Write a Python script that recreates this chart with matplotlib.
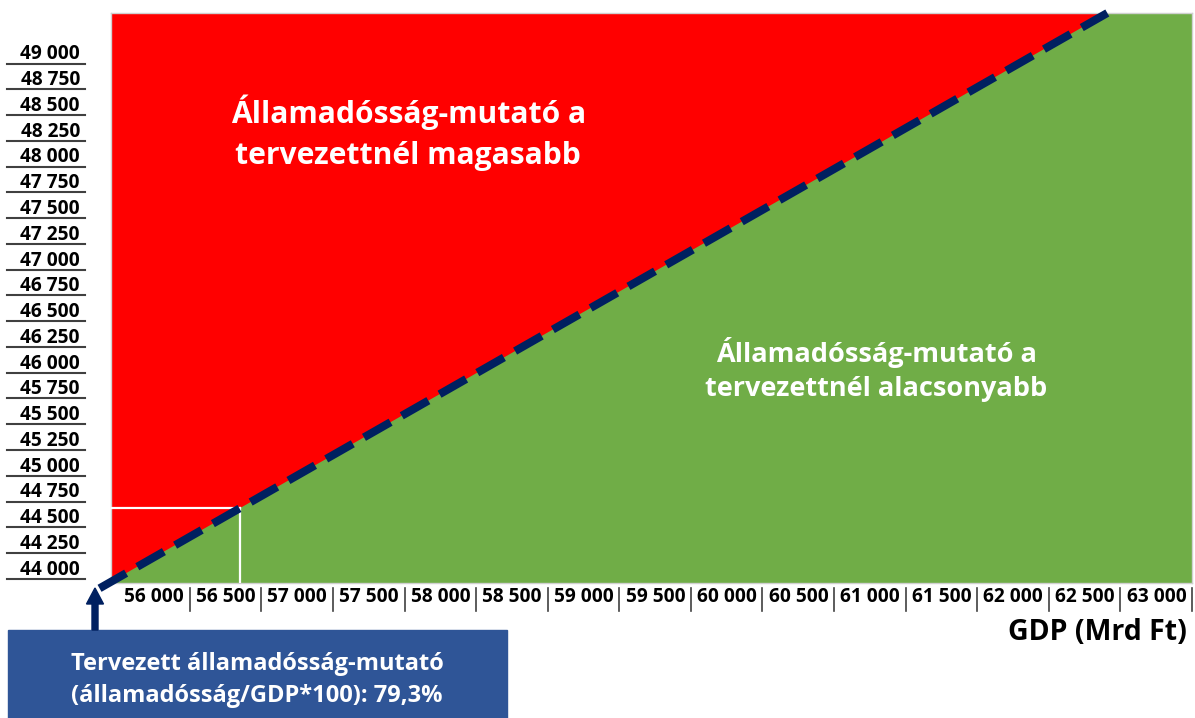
import matplotlib.pyplot as plt
import matplotlib.transforms as mtransforms
import numpy as np
from matplotlib.patches import FancyArrow, Rectangle

plt.rcParams['font.family'] = ['Open Sans', 'DejaVu Sans']

# adatok
gdp_ticks = [56000, 56500, 57000, 57500, 58000, 58500, 59000, 59500,
             60000, 60500, 61000, 61500, 62000, 62500, 63000]
debt_ticks = [44000, 44250, 44500, 44750, 45000, 45250, 45500, 45750,
              46000, 46250, 46500, 46750, 47000, 47250, 47500, 47750,
              48000, 48250, 48500, 48750, 49000]
ratio = 0.793          # tervezett adósság/GDP
marker_gdp = 56350     # kiemelt pont
line_start_gdp = 55370
xlim = (55450, 63000)
ylim = (43960, 49490)


def fmt(v):
    return f"{v:,}".replace(",", " ")


fig = plt.figure(figsize=(11.95, 7.18), dpi=100)
ax = fig.add_axes([111 / 1195, 135 / 718, 1081 / 1195, 570 / 718])
ax.set_xlim(*xlim)
ax.set_ylim(*ylim)

# háttér: piros, a vonal alatt zöld
ax.add_patch(Rectangle((xlim[0], ylim[0]), xlim[1] - xlim[0], ylim[1] - ylim[0],
                       color='#FF0000', zorder=0))
gx = np.linspace(xlim[0], xlim[1], 200)
ax.fill_between(gx, ylim[0], np.minimum(gx * ratio, ylim[1]),
                color='#70AD47', zorder=1)

# szaggatott határvonal
x_end = ylim[1] / ratio
lx = np.array([line_start_gdp, x_end])
ax.plot(lx, lx * ratio, color='#002060', lw=5.8, ls=(0, (3.8, 1.6)),
        solid_capstyle='butt', dash_capstyle='butt', clip_on=False, zorder=4)

# fehér jelölővonalak
my = marker_gdp * ratio
ax.plot([xlim[0], marker_gdp], [my, my], color='white', lw=1.6, zorder=3)
ax.plot([marker_gdp, marker_gdp], [ylim[0], my], color='white', lw=1.6, zorder=3)

for s in ax.spines.values():
    s.set_color('#D0D0D0')
    s.set_linewidth(1)
ax.set_xticks([])
ax.set_yticks([])

# y tengely feliratok aláhúzással
ty = mtransforms.blended_transform_factory(fig.transFigure, ax.transData)
for v in debt_ticks:
    ax.text(80 / 1195, v + 40, fmt(v), transform=ty, ha='right', va='baseline',
            fontsize=13.8, fontweight='bold', color='black')
    ax.plot([7 / 1195, 85 / 1195], [v, v], transform=ty, color='#404040',
            lw=1.5, clip_on=False)

# x tengely feliratok elválasztókkal
tx = mtransforms.blended_transform_factory(ax.transData, fig.transFigure)
for v in gdp_ticks:
    ax.text(v - 40, 1 - 597 / 718, fmt(v), transform=tx, ha='right', va='center',
            fontsize=13.8, fontweight='bold', color='black')
    ax.plot([v, v], [1 - 588 / 718, 1 - 611 / 718], transform=tx,
            color='#404040', lw=1.2, clip_on=False)

fig.text(1187 / 1195, 1 - 633 / 718, 'GDP (Mrd Ft)', ha='right', va='center',
         fontsize=20.5, fontweight='bold', color='black')

# területfeliratok
ax.text(0.275, 0.79, 'Államadósság-mutató a\ntervezettnél magasabb',
        transform=ax.transAxes, ha='center', va='center', color='white',
        fontsize=21.6, fontweight='bold', linespacing=1.45, zorder=5)
ax.text(0.708, 0.375, 'Államadósság-mutató a\ntervezettnél alacsonyabb',
        transform=ax.transAxes, ha='center', va='center', color='white',
        fontsize=19.5, fontweight='bold', linespacing=1.4, zorder=5)

# magyarázó doboz és nyíl
fig.patches.append(Rectangle((8 / 1195, 0), 499 / 1195, 88 / 718,
                             transform=fig.transFigure, color='#2F5597'))
fig.text(257 / 1195, 1 - 680 / 718,
         'Tervezett államadósság-mutató\n(államadósság/GDP*100): 79,3%',
         ha='center', va='center', color='white', fontsize=17,
         fontweight='bold', linespacing=1.5)
fig.patches.append(FancyArrow(95 / 1195, 88 / 718, 0, 42 / 718,
                              width=6 / 1195, head_width=17 / 1195,
                              head_length=16 / 718, length_includes_head=True,
                              transform=fig.transFigure, color='#002060'))

fig.savefig('out.png', dpi=100)
